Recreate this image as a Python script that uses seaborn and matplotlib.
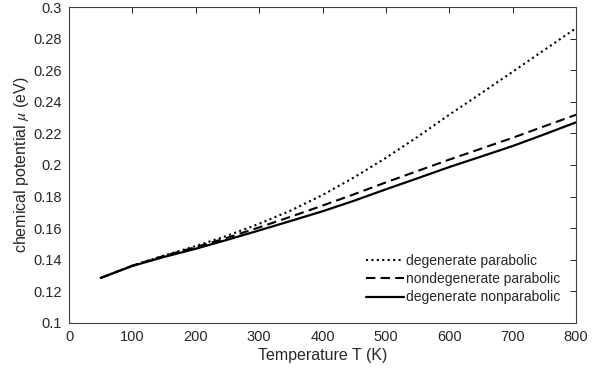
import matplotlib
matplotlib.use("Agg")
import matplotlib.pyplot as plt
import seaborn as sns
import pandas as pd

# ---- data ----
temperature = [50, 100, 150, 200, 250, 300, 350, 400, 450, 500, 550, 600, 650, 700, 750, 800]
deg_parabolic = [0.1285, 0.1363, 0.1427, 0.1487, 0.1553, 0.1628, 0.1712, 0.1810,
                 0.1922, 0.2045, 0.2178, 0.2318, 0.2453, 0.2590, 0.2728, 0.2866]
nondeg_parabolic = [0.1285, 0.1363, 0.1425, 0.1480, 0.1540, 0.1605, 0.1673, 0.1743,
                    0.1815, 0.1890, 0.1962, 0.2034, 0.2103, 0.2172, 0.2245, 0.2318]
deg_nonparabolic = [0.1285, 0.1361, 0.1418, 0.1470, 0.1527, 0.1586, 0.1646, 0.1707,
                    0.1774, 0.1846, 0.1916, 0.1987, 0.2053, 0.2120, 0.2194, 0.2270]
series_labels = ["degenerate parabolic", "nondegenerate parabolic", "degenerate nonparabolic"]
x_ticks = [0, 100, 200, 300, 400, 500, 600, 700, 800]
y_ticks = [0.1, 0.12, 0.14, 0.16, 0.18, 0.2, 0.22, 0.24, 0.26, 0.28, 0.3]
y_ticklabels = ["0.1", "0.12", "0.14", "0.16", "0.18", "0.2", "0.22", "0.24", "0.26", "0.28", "0.3"]

sns.set_theme(style="white")
plt.rcParams["font.family"] = ["Liberation Sans", "DejaVu Sans"]
plt.rcParams["mathtext.fontset"] = "stix"

fig = plt.figure(figsize=(6.05, 3.78), dpi=100)
ax = fig.add_axes([69 / 605, 1 - 323 / 378, 507 / 605, 316 / 378])

df = pd.DataFrame({"T": temperature, "dp": deg_parabolic, "ndp": nondeg_parabolic, "dnp": deg_nonparabolic})

sns.lineplot(data=df, x="T", y="dp", ax=ax, color="black", lw=1.5, label=series_labels[0])
sns.lineplot(data=df, x="T", y="ndp", ax=ax, color="black", lw=1.5, label=series_labels[1])
sns.lineplot(data=df, x="T", y="dnp", ax=ax, color="black", lw=1.6, label=series_labels[2])
lines = ax.get_lines()
lines[0].set_linestyle((0, (1, 1.6)))
lines[1].set_linestyle((0, (4.5, 2.5)))
lines[2].set_linestyle("-")

ax.set_xlim(0, 800)
ax.set_ylim(0.1, 0.3)
ax.set_xticks(x_ticks)
ax.set_yticks(y_ticks)
ax.set_yticklabels(y_ticklabels)
ax.tick_params(direction="in", top=True, right=True, length=4, width=0.7,
               colors="#262626", labelsize=10.5, pad=5)
for sp in ax.spines.values():
    sp.set_visible(True)
    sp.set_color("#404040")
    sp.set_linewidth(0.8)

ax.set_xlabel("Temperature T (K)", fontsize=11.5, color="#262626", labelpad=3)
ax.set_ylabel(r"chemical potential $\mu$ (eV)", fontsize=11.5, color="#262626", labelpad=2)

leg = ax.legend(handles=ax.get_lines()[:3], labels=series_labels, loc="lower right",
                bbox_to_anchor=(0.975, 0.05), frameon=False, fontsize=10,
                handlelength=2.7, handletextpad=0.2, labelspacing=0.3,
                borderaxespad=0.0, borderpad=0.2)
for t in leg.get_texts():
    t.set_color("#262626")

fig.savefig("out.png", dpi=100)
